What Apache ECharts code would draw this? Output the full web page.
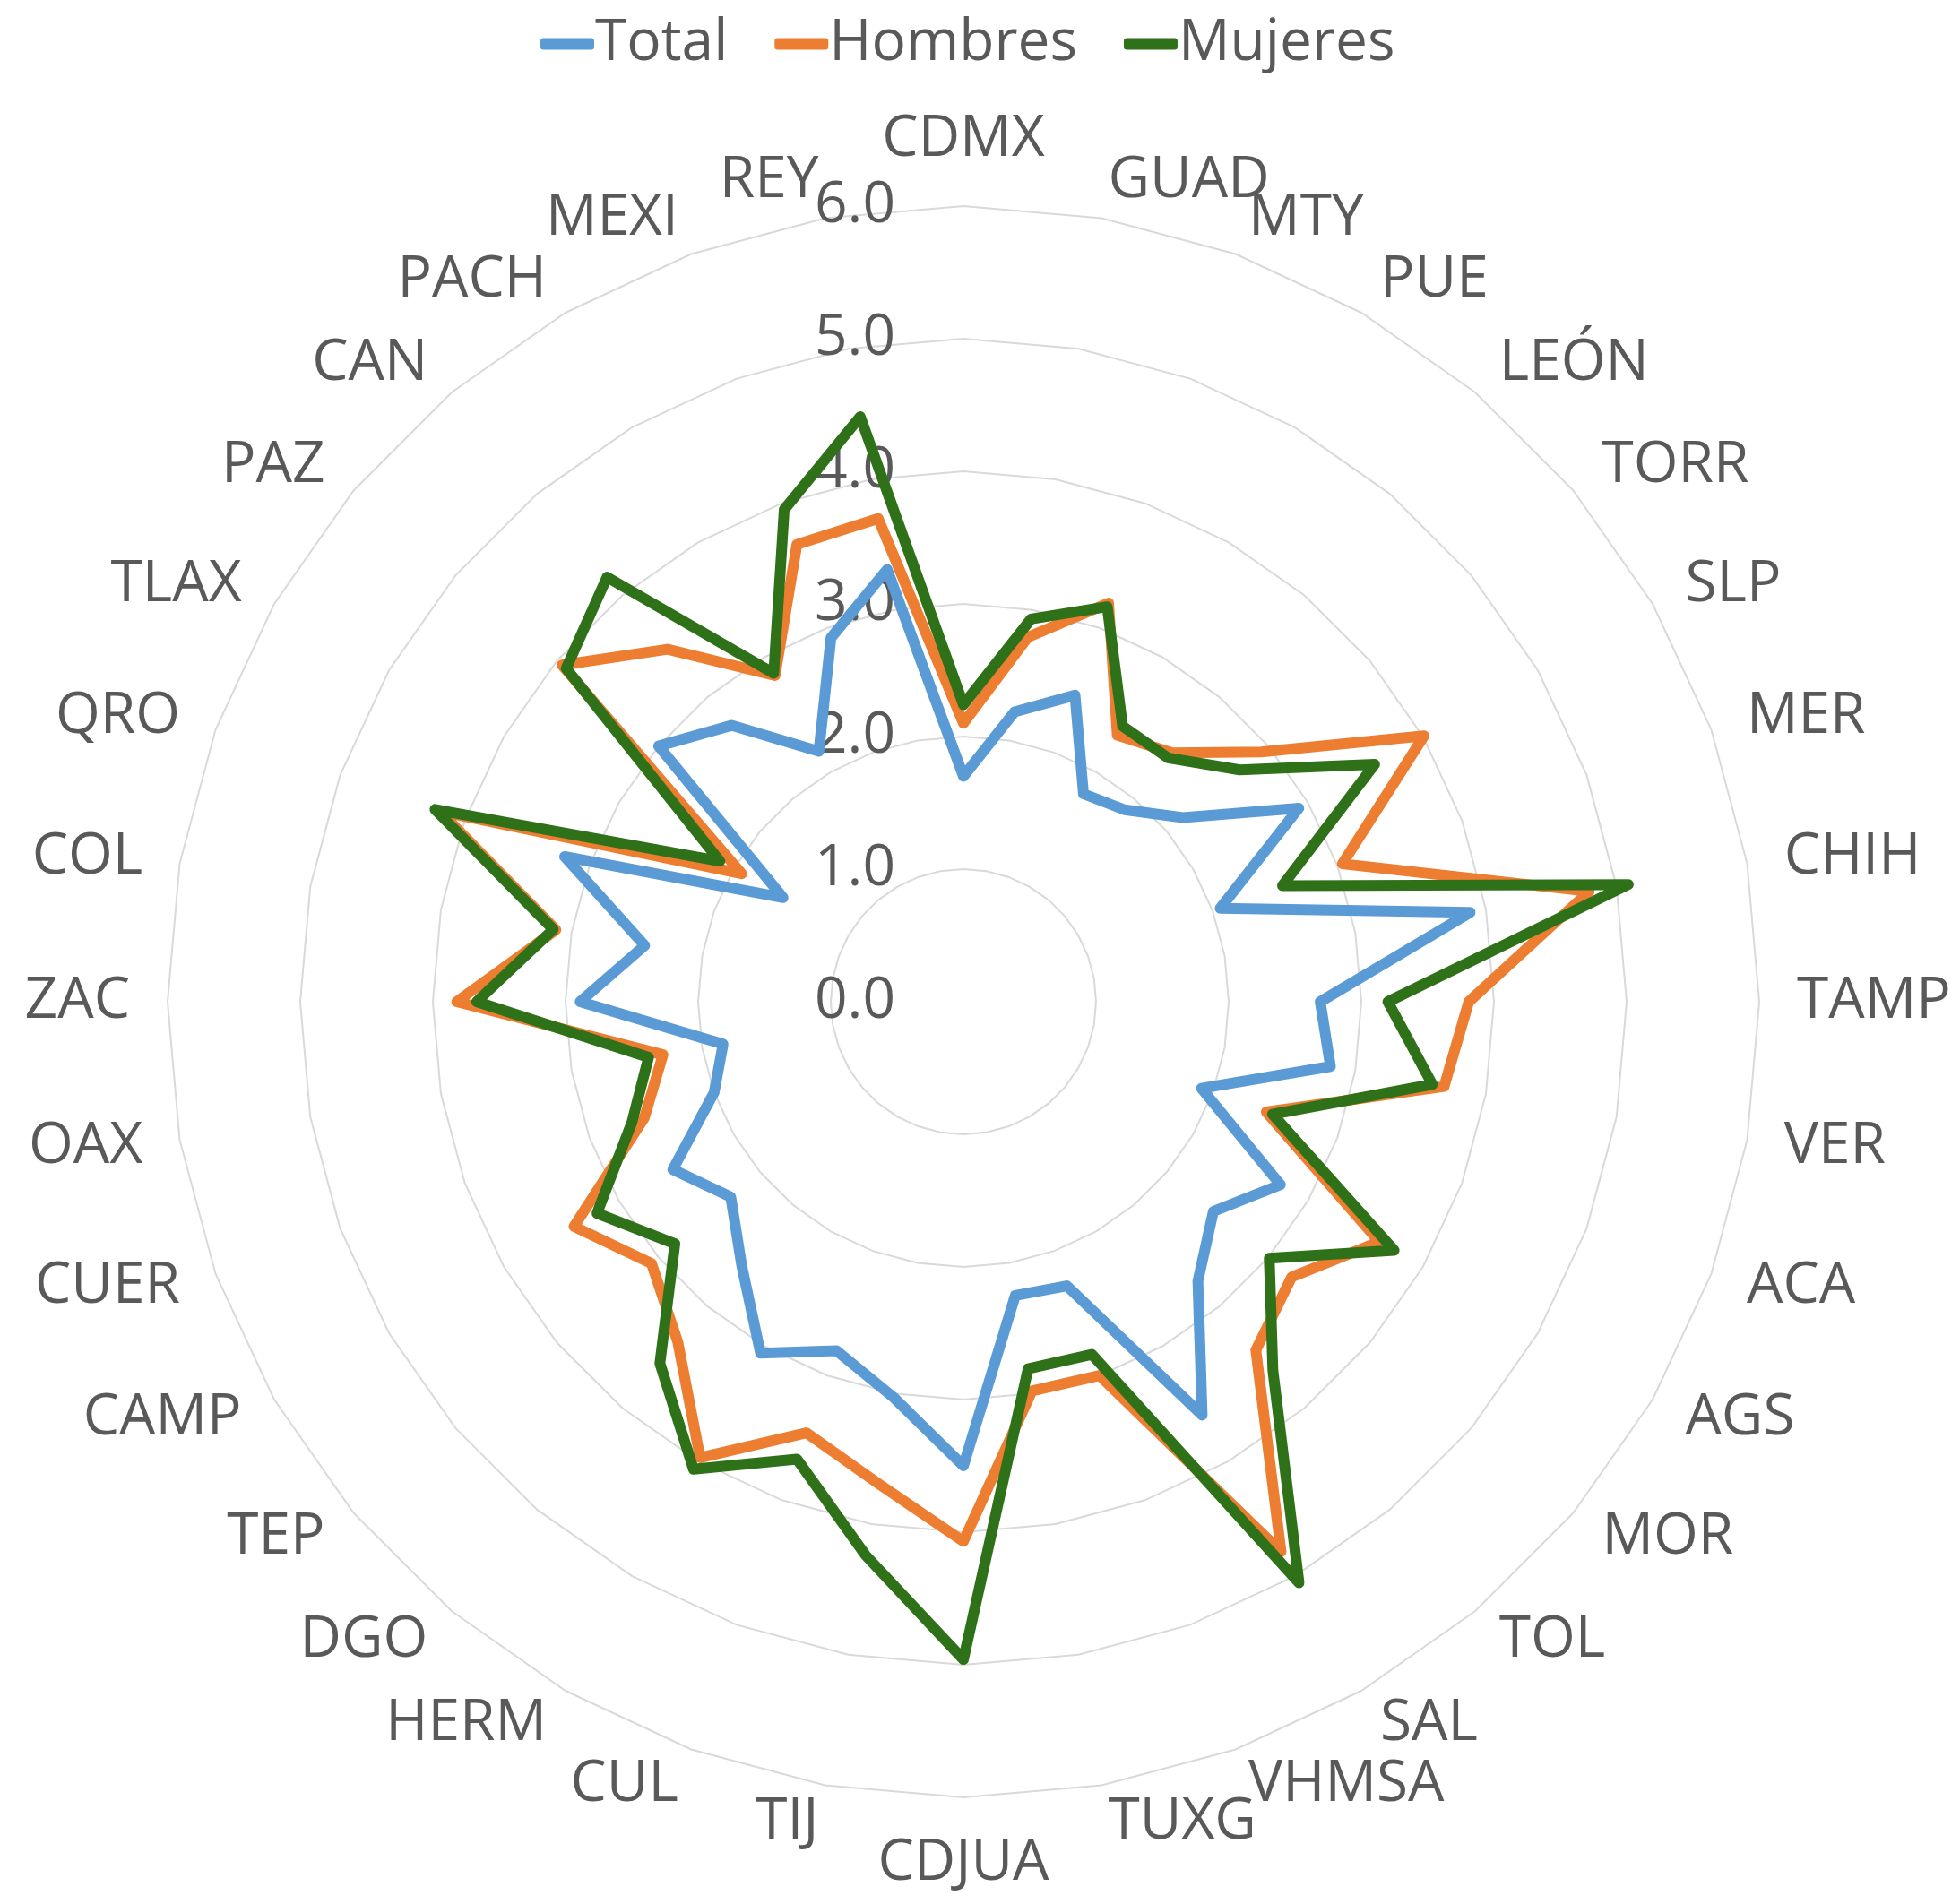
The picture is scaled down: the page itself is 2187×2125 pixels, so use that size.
<!DOCTYPE html>
<html>
<head>
<meta charset="utf-8">
<script src="https://cdn.jsdelivr.net/npm/echarts@6/dist/echarts.min.js"></script>
<style>
  html, body { margin: 0; padding: 0; background: #fff; }
  #main { width: 2187px; height: 2125px; }
</style>
</head>
<body>
<div id="main"></div>
<script>
// categories, clockwise from the top
var categories = ['CDMX', 'GUAD', 'MTY', 'PUE', 'LEÓN', 'TORR', 'SLP', 'MER', 'CHIH', 'TAMP',
    'VER', 'ACA', 'AGS', 'MOR', 'TOL', 'SAL', 'VHMSA', 'TUXG', 'CDJUA', 'TIJ', 'CUL', 'HERM',
    'DGO', 'TEP', 'CAMP', 'CUER', 'OAX', 'ZAC', 'COL', 'QRO', 'TLAX', 'PAZ', 'CAN', 'PACH', 'MEXI', 'REY'];

var total = [1.70, 2.22, 2.46, 1.81, 1.89, 2.16, 2.92, 2.06, 3.88, 2.69,
    2.81, 1.91, 2.76, 2.46, 2.75, 3.60, 2.28, 2.25, 3.50, 3.03, 2.80, 3.06,
    2.60, 2.29, 2.53, 2.00, 1.84, 2.89, 2.44, 3.20, 1.57, 3.00, 2.72, 2.18, 2.92, 3.31];
var hombres = [2.10, 2.79, 3.20, 2.32, 2.45, 2.93, 4.01, 3.04, 4.79, 3.81,
    3.68, 2.43, 3.62, 3.23, 3.43, 4.79, 3.00, 2.98, 4.07, 3.69, 3.46, 3.97,
    3.35, 3.07, 3.39, 2.56, 2.30, 3.82, 3.12, 4.20, 1.93, 3.95, 3.47, 2.84, 3.67, 3.70];
var mujeres = [2.24, 2.93, 3.17, 2.40, 2.40, 2.72, 3.58, 2.56, 5.09, 3.20,
    3.59, 2.48, 3.75, 3.01, 3.63, 5.06, 2.83, 2.81, 4.96, 4.24, 3.67, 4.07,
    3.56, 2.84, 3.19, 2.66, 2.41, 3.67, 3.14, 4.24, 2.12, 3.91, 4.18, 2.86, 3.95, 4.48];

var seriesNames = ['Total', 'Hombres', 'Mujeres'];
var colors = ['#5B9BD5', '#ED7D31', '#2F7118'];
var axisMax = 6;

// echarts radar runs counter-clockwise, so keep the first item and reverse the rest
function clockwise(arr) {
    return [arr[0]].concat(arr.slice(1).reverse());
}

var indicators = clockwise(categories).map(function (name, i) {
    var ind = { name: name, min: 0, max: axisMax };
    if (i === 0) {
        ind.axisLabel = { show: true };
    }
    return ind;
});

var font = 'Open Sans';
var myChart = echarts.init(document.getElementById('main'));

myChart.setOption({
    color: colors,
    textStyle: { fontFamily: font },
    legend: {
        top: 12,
        left: 598,
        icon: 'roundRect',
        itemWidth: 60,
        itemHeight: 13,
        itemGap: 52,
        textStyle: { fontSize: 64, color: '#595959', fontFamily: font, padding: [0, 0, 0, -4] },
        data: seriesNames
    },
    radar: {
        center: [1075, 1118],
        radius: 888,
        startAngle: 90,
        splitNumber: 6,
        shape: 'polygon',
        indicator: indicators,
        axisName: {
            color: '#595959',
            fontSize: 64,
            fontFamily: font
        },
        nameGap: 42,
        axisLine: { show: false },
        axisTick: { show: false },
        splitArea: { show: false },
        splitLine: {
            lineStyle: { color: '#D9D9D9', width: 2 }
        },
        axisLabel: {
            show: false,
            color: '#595959',
            fontSize: 64,
            fontFamily: font,
            margin: 76,
            formatter: function (v) { return v.toFixed(1); }
        }
    },
    series: [{
        type: 'radar',
        symbol: 'none',
        silent: true,
        data: [total, hombres, mujeres].map(function (vals, i) {
            return {
                name: seriesNames[i],
                value: clockwise(vals),
                lineStyle: { color: colors[i], width: 12, join: 'round', cap: 'round' },
                itemStyle: { color: colors[i] }
            };
        })
    }]
});
</script>
</body>
</html>
